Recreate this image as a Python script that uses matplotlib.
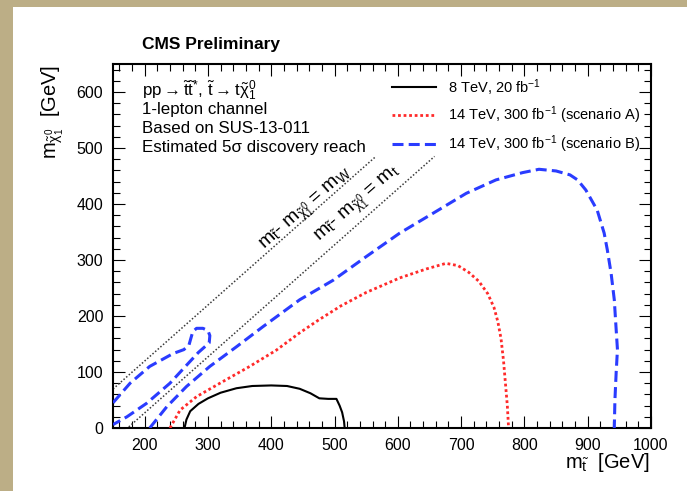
import numpy as np
import matplotlib
matplotlib.use('Agg')
import matplotlib.pyplot as plt
from matplotlib.patches import Rectangle
from matplotlib.ticker import MultipleLocator

plt.rcParams['font.family'] = ['Liberation Sans', 'DejaVu Sans']
plt.rcParams['mathtext.fontset'] = 'custom'
plt.rcParams['mathtext.rm'] = 'Liberation Sans'
plt.rcParams['mathtext.it'] = 'Liberation Sans'
plt.rcParams['mathtext.bf'] = 'Liberation Sans:bold'

# 8 TeV, 20 fb-1 (solid black)
stop_8tev = [263, 266, 272, 285, 300, 320, 345, 370, 400, 425, 445, 462, 476,
             490, 503, 508, 512, 515, 516]
lsp_8tev = [0, 15, 30, 43, 53, 63, 71, 75, 76, 75, 70, 62, 53,
            52, 52, 40, 28, 12, 0]

# 14 TeV, 300 fb-1, scenario A (red dotted)
stop_a = [240, 256, 282, 319, 366, 408, 445, 475, 510, 550, 603, 645, 676,
          695, 712, 728, 742, 752, 758, 763, 767, 770, 773, 775]
lsp_a = [0, 32, 56, 80, 110, 139, 170, 193, 218, 242, 268, 284, 294,
         290, 278, 262, 240, 215, 190, 160, 120, 80, 40, 0]

# 14 TeV, 300 fb-1, scenario B (blue dashed), main contour
stop_b = [208, 235, 266, 303, 345, 387, 445, 498, 550, 603, 655, 708, 755,
          797, 823, 850, 872, 884, 897, 915, 926, 931, 937, 942, 945, 947, 945, 943, 942]
lsp_b = [0, 38, 74, 110, 145, 181, 229, 264, 306, 348, 383, 419, 443,
         456, 462, 459, 452, 443, 425, 389, 348, 318, 276, 229, 175, 140, 100, 50, 0]

# scenario B, island near the diagonal
stop_b2 = [150, 177, 208, 245, 262, 270, 273, 276, 282, 292, 300, 303, 302,
           296, 285, 271, 240, 203, 172, 153, 150]
lsp_b2 = [45, 80, 110, 133, 140, 148, 160, 172, 178, 178, 174, 165, 152,
          146, 135, 118, 80, 44, 20, 8, 6]

# kinematic limits m_stop - m_lsp = m_W, m_t
m_w = 80.4
m_top = 173.0
diag_end = 485

fig = plt.figure(figsize=(6.87, 4.91), dpi=100, facecolor='#bcae86')
fig.patches.append(Rectangle((13 / 687, 0), 1, 1 - 7 / 491, transform=fig.transFigure,
                             facecolor='white', edgecolor='none', zorder=-10))
ax = fig.add_axes([113 / 687, 1 - 428 / 491, 538 / 687, 364 / 491])
ax.set_facecolor('white')

ax.set_xlim(150, 1000)
ax.set_ylim(0, 650)

# diagonal lines
for dm in (m_w, m_top):
    xs = np.array([150, diag_end + dm])
    ax.plot(xs, xs - dm, color='#3a3a3a', lw=1.1, dashes=(1, 1.3), zorder=2)

l1, = ax.plot(stop_8tev, lsp_8tev, color='black', lw=1.5, zorder=3)
l2, = ax.plot(stop_a, lsp_a, color='#ff2a2a', lw=2.0, dashes=(1, 1), zorder=3)
l3, = ax.plot(stop_b, lsp_b, color='#2a3cff', lw=2.2, dashes=(3.6, 1.7), zorder=3)
ax.plot(stop_b2, lsp_b2, color='#2a3cff', lw=2.2, dashes=(3.6, 1.7), zorder=3)

# rotation of the diagonal in display space
p0 = ax.transData.transform((300, 200))
p1 = ax.transData.transform((500, 400))
ang = np.degrees(np.arctan2(p1[1] - p0[1], p1[0] - p0[0]))
ax.text(456, 389, r'm$_{\tilde{t}}$- m$_{\tilde{\chi}^{0}_{1}}$ = m$_{W}$', rotation=ang,
        rotation_mode='anchor', ha='center', va='center', fontsize=14)
ax.text(538, 398, r'm$_{\tilde{t}}$- m$_{\tilde{\chi}^{0}_{1}}$ = m$_{t}$', rotation=ang,
        rotation_mode='anchor', ha='center', va='center', fontsize=14)

# info text
info = [r'pp$\rightarrow\tilde{t}\tilde{t}^{*}$, $\tilde{t}\rightarrow t\tilde{\chi}^{0}_{1}$',
        '1-lepton channel', 'Based on SUS-13-011', 'Estimated 5σ discovery reach']
for i, s in enumerate(info):
    fig.text(142 / 687, 1 - (90 + 19.3 * i) / 491, s, fontsize=12.2, va='center')

fig.text(142 / 687, 1 - 45 / 491, 'CMS Preliminary', fontsize=12.5, fontweight='bold', va='center')

leg = ax.legend([l1, l2, l3],
                [r'8 TeV, 20 fb$^{-1}$', r'14 TeV, 300 fb$^{-1}$ (scenario A)',
                 r'14 TeV, 300 fb$^{-1}$ (scenario B)'],
                loc='upper left', bbox_to_anchor=((392 - 113) / 538, (428 - 77) / 364),
                frameon=False, fontsize=10.5, handlelength=3.0, handletextpad=0.85,
                labelspacing=0.5, borderpad=0, borderaxespad=0)

# axes styling
ax.set_xticks(np.arange(200, 1001, 100))
ax.set_yticks(np.arange(0, 601, 100))
ax.xaxis.set_minor_locator(MultipleLocator(20))
ax.yaxis.set_minor_locator(MultipleLocator(20))
ax.tick_params(which='both', direction='in', top=True, right=True, width=0.8)
ax.tick_params(which='major', length=8.6, labelsize=11.5, pad=7)
ax.tick_params(which='minor', length=4.7)
for sp in ax.spines.values():
    sp.set_linewidth(1.5)

fig.text(650 / 687, 1 - 463 / 491, r'm$_{\tilde{t}}$  [GeV]', fontsize=14.5, ha='right', va='center')
fig.text(53 / 687, 1 - 65 / 491, r'm$_{\tilde{\chi}^{0}_{1}}$  [GeV]', fontsize=14.5,
         rotation=90, ha='center', va='top')

fig.savefig('out.png', dpi=100, facecolor=fig.get_facecolor())
